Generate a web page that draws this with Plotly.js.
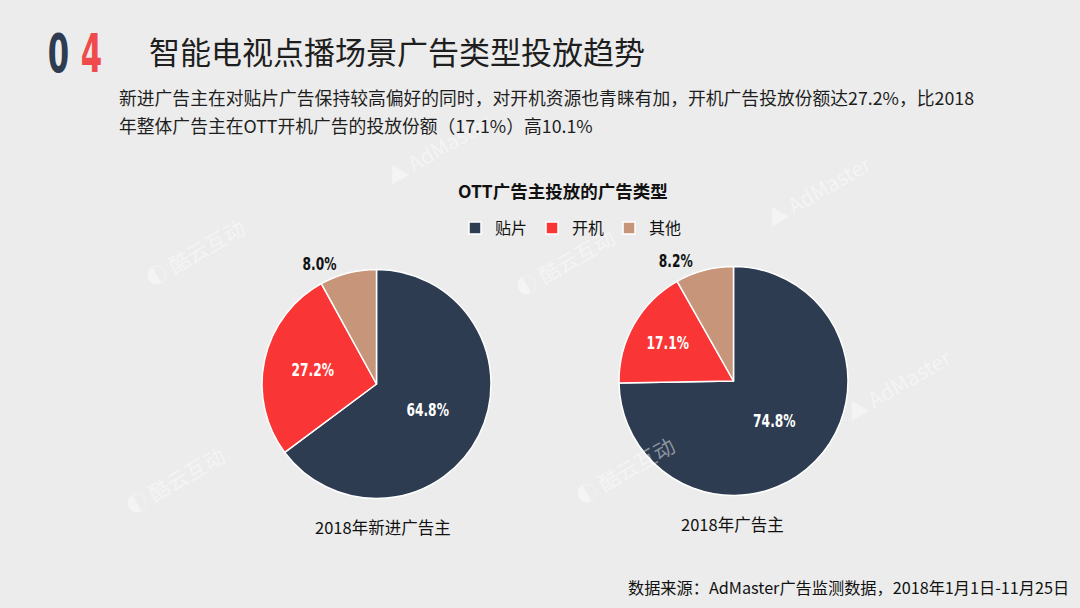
<!DOCTYPE html>
<html><head><meta charset="utf-8">
<script src="https://cdn.plot.ly/plotly-3.0.1.min.js"></script>
<style>html,body{margin:0;padding:0;background:#ececec;}</style>
</head><body>
<div id="chart" style="width:1080px;height:608px;"></div>
<script>
const categories = ['贴片', '开机', '其他'];
const newAdvertisers = [64.8, 27.2, 8.0];
const allAdvertisers = [74.8, 17.1, 8.2];
const pieNames = ['2018年新进广告主', '2018年广告主'];
const colors = ['#2d3c50', '#f93536', '#c7957a'];

const W = 1080, H = 608;
function px(x){return x/W;}
function py(y){return 1 - y/H;}

const labelFont = {family: '"DejaVu Sans", sans-serif', size: 17, color: '#ffffff', weight: 'bold'};

function pie(values, x0, x1, y0, y1, showLegend){
  return {
    type: 'pie', labels: categories, values: values, sort: false,
    direction: 'clockwise', rotation: 0,
    marker: {colors: colors, line: {color: '#ffffff', width: 1.5}},
    texttemplate: '%{value:.1f}%',
    textposition: ['inside', 'inside', 'outside'],
    insidetextorientation: 'horizontal',
    insidetextfont: labelFont,
    outsidetextfont: Object.assign({}, labelFont, {color: '#111111'}),
    hoverinfo: 'label+value',
    showlegend: showLegend,
    automargin: false,
    domain: {x: [px(x0), px(x1)], y: [py(y1), py(y0)]}
  };
}

const data = [
  pie(newAdvertisers, 262, 491, 269, 499, true),
  pie(allAdvertisers, 619, 848, 266, 496, false)
];

const textFont = '"Microsoft YaHei", "Noto Sans CJK SC", sans-serif';
function ann(text, x, y, xanchor, font, extra){
  return Object.assign({text: text, x: px(x), y: py(y), xanchor: xanchor, yanchor: 'middle',
          xref: 'paper', yref: 'paper', showarrow: false, font: font}, extra || {});
}
const wmFont = {family: '"Noto Sans CJK SC", sans-serif', size: 21, color: 'rgba(255,255,255,0.45)'};
const watermarks = [
  ann('◐ 酷云互动', 195, 252, 'center', wmFont, {textangle: -30}),
  ann('◐ 酷云互动', 175, 480, 'center', wmFont, {textangle: -30}),
  ann('◐ 酷云互动', 565, 262, 'center', wmFont, {textangle: -30}),
  ann('◐ 酷云互动', 625, 470, 'center', wmFont, {textangle: -30}),
  ann('▲ AdMaster', 438, 148, 'center', wmFont, {textangle: -30}),
  ann('▲ AdMaster', 818, 190, 'center', wmFont, {textangle: -30}),
  ann('▲ AdMaster', 898, 384, 'center', wmFont, {textangle: -30})
];
const annotations = watermarks.concat([
  ann('0', 58, 53, 'center', {family: '"DejaVu Sans", sans-serif', size: 53, color: '#2d3c50', weight: 'bold'}),
  ann('4', 91, 53, 'center', {family: '"DejaVu Sans", sans-serif', size: 53, color: '#ef4a4c', weight: 'bold'}),
  ann('智能电视点播场景广告类型投放趋势', 147, 50, 'left', {family: textFont, size: 31, color: '#1e1e1e'}),
  ann('新进广告主在对贴片广告保持较高偏好的同时，对开机资源也青睐有加，开机广告投放份额达27.2%，比2018', 117, 97, 'left', {family: textFont, size: 17.8, color: '#1e1e1e'}),
  ann('年整体广告主在OTT开机广告的投放份额（17.1%）高10.1%', 117, 125, 'left', {family: textFont, size: 17.8, color: '#1e1e1e'}),
  ann('OTT广告主投放的广告类型', 563, 190, 'center', {family: textFont, size: 17.5, color: '#111111', weight: 'bold'}),
  ann(pieNames[0], 383, 527, 'center', {family: textFont, size: 16.5, color: '#111111'}),
  ann(pieNames[1], 732, 524, 'center', {family: textFont, size: 16.5, color: '#111111'}),
  ann('数据来源：AdMaster广告监测数据，2018年1月1日-11月25日', 1071, 587, 'right', {family: textFont, size: 16.2, color: '#111111'})
]);

const layout = {
  width: W, height: H,
  margin: {l: 0, r: 0, t: 0, b: 0},
  paper_bgcolor: '#ececec', plot_bgcolor: '#ececec',
  showlegend: true,
  legend: {orientation: 'h', x: px(571), xanchor: 'center', y: py(228), yanchor: 'middle',
           font: {family: textFont, size: 16, color: '#111111'}, bgcolor: 'rgba(0,0,0,0)', itemwidth: 30},
  annotations: annotations
};

// narrow a text element horizontally around its own centre (emulates a condensed face)
function condense(el, s){
  const bb = el.getBBox();
  const cx = bb.x + bb.width / 2;
  const t = el.getAttribute('transform') || '';
  el.setAttribute('transform', t + ' translate(' + cx + ',0) scale(' + s + ',1) translate(' + (-cx) + ',0)');
}

Plotly.newPlot('chart', data, layout, {displayModeBar: false, staticPlot: true}).then(function(gd){
  gd.querySelectorAll('g.slicetext text').forEach(function(el){ condense(el, 0.72); });
  gd.querySelectorAll('text.annotation-text').forEach(function(el){
    const s = el.textContent;
    if (s === '0' || s === '4') condense(el, 0.58);
  });
});
</script>
</body></html>
